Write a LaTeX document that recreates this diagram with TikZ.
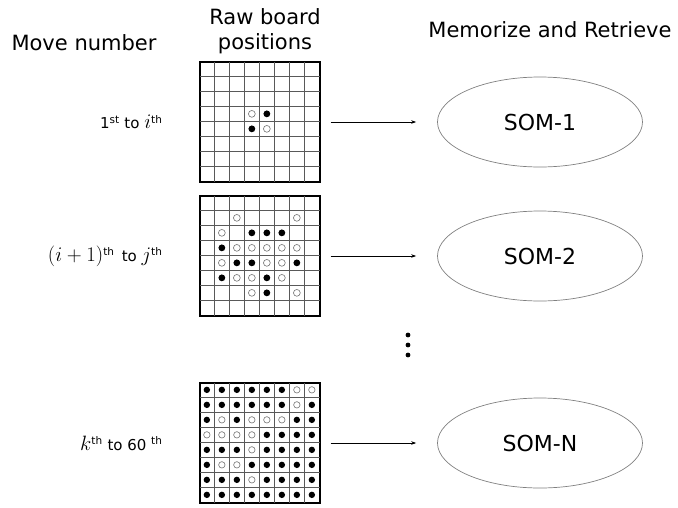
\documentclass[tikz,border=0pt]{standalone}
\usepackage{fontspec}
\setmainfont{DejaVu Sans}
\usetikzlibrary{shapes.geometric,arrows.meta,positioning}

\newcommand{\mv}[1]{{\fontsize{22}{24}\selectfont\(#1\)}}

\begin{document}
\begin{tikzpicture}[x=1pt,y=-1pt]
	\tikzset{board/.style={draw,line width=1.3pt,minimum size=120pt,inner sep=0pt},
		gridline/.style={black!65,line width=0.6pt},
		som/.style={draw=gray,ellipse,line width=0.7pt,minimum width=205pt,minimum height=90pt,font=\fontsize{22}{26}\selectfont},
		head/.style={font=\fontsize{21}{25}\selectfont,align=center},
		movelabel/.style={anchor=east,font=\fontsize{15}{18}\selectfont},
		discb/.style={fill=black},
		discw/.style={draw=black!55,fill=white,line width=0.6pt},
		disco/.style={},
		feed/.style={-{Stealth[length=5pt,width=3.5pt]},line width=0.6pt,shorten <=10pt,shorten >=21pt}}
	\useasboundingbox (0,0) rectangle (678,507);

	% headings
	\node [head] (hmove)	at (84,43)		{Move number};
	\node [head] (hraw)		at (265,31)		{Raw board\\positions};
	\node [head] (hsom)		at (550,30)		{Memorize and Retrieve};

	% boards
	\node [board] (b1) at (260,122) {};
	\node [board] (b2) at (260,256) {};
	\node [board] (b3) at (260,443) {};
	\foreach \b in {b1,b2,b3} {
		\foreach \k in {1,...,7} {
			\draw [gridline] ([xshift=\k*15pt]\b.north west) -- ([xshift=\k*15pt]\b.south west);
			\draw [gridline] ([yshift=-\k*15pt]\b.north west) -- ([yshift=-\k*15pt]\b.north east);
		}
		\draw [line width=1.3pt] (\b.north west) rectangle (\b.south east);
	}

	% discs, row by row
	\foreach \r/\row in {4/{o,o,o,w,b,o,o,o},5/{o,o,o,b,w,o,o,o}}
		\foreach \s [count=\c] in \row
			\path [disc\s] ([shift={({\c*15-7.5},{\r*15-7.5})}]b1.north west) circle (3.4pt);
	\foreach \r/\row in {2/{o,o,w,o,o,o,w,o},3/{o,w,o,b,b,b,o,o},4/{o,b,w,w,w,w,w,o},
			5/{o,w,b,b,w,w,b,o},6/{o,b,w,w,b,w,o,o},7/{o,o,o,w,b,o,w,o}}
		\foreach \s [count=\c] in \row
			\path [disc\s] ([shift={({\c*15-7.5},{\r*15-7.5})}]b2.north west) circle (3.4pt);
	\foreach \r/\row in {1/{b,b,b,b,b,b,w,w},2/{b,b,b,b,b,b,w,b},3/{b,w,b,w,w,w,b,b},
			4/{w,w,w,w,b,b,b,b},5/{b,b,b,w,b,b,b,b},6/{b,w,w,b,b,b,b,b},
			7/{b,b,b,w,b,b,b,b},8/{b,b,b,b,b,b,b,b}}
		\foreach \s [count=\c] in \row
			\path [disc\s] ([shift={({\c*15-7.5},{\r*15-7.5})}]b3.north west) circle (3.2pt);

	% move ranges
	\node [movelabel] (m1) at (166,122) {1\textsuperscript{st} to \mv{i}\textsuperscript{th}};
	\node [movelabel] (m2) at (166,256) {\mv{(i+1)}\textsuperscript{th}\, to \mv{j}\textsuperscript{th}};
	\node [movelabel] (m3) at (166,443) {\mv{k}\textsuperscript{th} to 60 \textsuperscript{th}};

	% maps
	\node [som] (s1) at (540,122) {SOM-1};
	\node [som] (s2) at (540,256) {SOM-2};
	\node [som] (s3) at (540,443) {SOM-N};

	\draw [feed] (b1) -- (s1);
	\draw [feed] (b2) -- (s2);
	\draw [feed] (b3) -- (s3);

	\foreach \y in {335,345,355}
		\fill (408,\y) circle (2.4pt);
\end{tikzpicture}
\end{document}
